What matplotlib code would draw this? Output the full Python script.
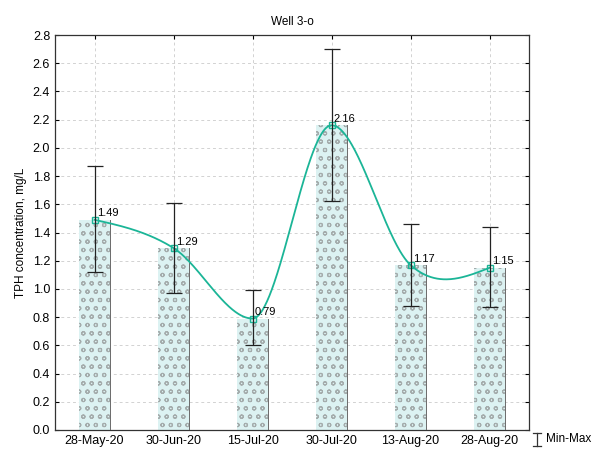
import numpy as np
import matplotlib
matplotlib.use("Agg")
import matplotlib.pyplot as plt
from matplotlib.lines import Line2D

categories = ["28-May-20", "30-Jun-20", "15-Jul-20", "30-Jul-20", "13-Aug-20", "28-Aug-20"]
means = [1.49, 1.29, 0.79, 2.16, 1.17, 1.15]
maxs = [1.87, 1.61, 0.99, 2.70, 1.46, 1.44]
mins = [1.12, 0.97, 0.60, 1.62, 0.88, 0.87]
yticks = [0.0, 0.2, 0.4, 0.6, 0.8, 1.0, 1.2, 1.4, 1.6, 1.8, 2.0, 2.2, 2.4, 2.6, 2.8]

plt.rcParams["hatch.linewidth"] = 0.8
plt.rcParams["font.family"] = "Liberation Sans"

fig = plt.figure(figsize=(5.96, 4.53), dpi=100)
ax = fig.add_axes([55/596, 1-430/453, (529-55)/596, (430-35)/453])

x = np.arange(len(categories))
means_a = np.array(means)

bars = ax.bar(x, means, width=0.4, color="#dcf2f2", edgecolor="#a4acac",
              hatch="oo", linewidth=0, zorder=2)
for xi, m in zip(x, means):
    ax.plot([xi + 0.2, xi + 0.2], [0, m], color="#6a6a6a", lw=0.7, zorder=3)

# smooth Hermite curve through the data points
def tangents(ys):
    n = len(ys)
    m = np.zeros(n)
    for i in range(1, n - 1):
        if (ys[i] - ys[i - 1]) * (ys[i + 1] - ys[i]) < 0:
            m[i] = 0.0
        else:
            m[i] = (ys[i + 1] - ys[i - 1]) / 2
    m[0] = (3 * (ys[1] - ys[0]) - m[1]) / 2
    m[-1] = (3 * (ys[-1] - ys[-2]) - m[-2]) / 2
    return m

def hermite(xs, ys, xn):
    m = tangents(ys)
    out = np.empty_like(xn)
    for k, t in enumerate(xn):
        i = min(int(np.floor(t - xs[0])), len(xs) - 2)
        s = t - xs[i]
        h00 = 2 * s**3 - 3 * s**2 + 1
        h10 = s**3 - 2 * s**2 + s
        h01 = -2 * s**3 + 3 * s**2
        h11 = s**3 - s**2
        out[k] = h00 * ys[i] + h10 * m[i] + h01 * ys[i + 1] + h11 * m[i + 1]
    return out

xf = np.linspace(x[0], x[-1], 500)
yf = hermite(x.astype(float), means_a, xf)
ax.plot(xf, yf, color="#1bb597", lw=1.3, zorder=4)
ax.plot(x, means, linestyle="none", marker="s", ms=4, mfc="none", mec="#1bb597", mew=1, zorder=5)

lo = means_a - np.array(mins)
hi = np.array(maxs) - means_a
ax.errorbar(x, means, yerr=[lo, hi], fmt="none", ecolor="#222222", elinewidth=0.9,
            capsize=6, capthick=0.9, zorder=6)

for xi, m in zip(x, means):
    ax.text(xi + 0.03, m + 0.01, f"{m:.2f}", fontsize=8, ha="left", va="bottom", zorder=7)

ax.set_xlim(-0.5, 5.5)
ax.set_ylim(0, 2.8)
ax.set_yticks(yticks)
ax.set_yticklabels([f"{t:.1f}" for t in yticks])
ax.set_xticks(x)
ax.set_xticklabels(categories)
ax.tick_params(axis="both", labelsize=9, direction="in", length=3, right=True, top=True, width=0.8)
ax.grid(True, linestyle=(0, (3, 3)), color="#d2d2d2", lw=0.7, zorder=0)
ax.set_axisbelow(True)
for s in ax.spines.values():
    s.set_linewidth(0.9)
    s.set_color("#333333")
ax.set_ylabel("TPH concentration, mg/L", fontsize=8.5)
ax.set_title("Well 3-o", fontsize=8.5, pad=7)

# Min-Max legend drawn in figure coordinates
lx = 537 / 596
y0 = 1 - 446 / 453
y1 = 1 - 433 / 453
dx = 4 / 596
fig.add_artist(Line2D([lx, lx], [y0, y1], color="#333333", lw=0.9, transform=fig.transFigure))
fig.add_artist(Line2D([lx - dx, lx + dx], [y0, y0], color="#333333", lw=0.9, transform=fig.transFigure))
fig.add_artist(Line2D([lx - dx, lx + dx], [y1, y1], color="#333333", lw=0.9, transform=fig.transFigure))
fig.text(546 / 596, (y0 + y1) / 2, "Min-Max", fontsize=8.5, ha="left", va="center")

fig.savefig("out.png", dpi=100)
